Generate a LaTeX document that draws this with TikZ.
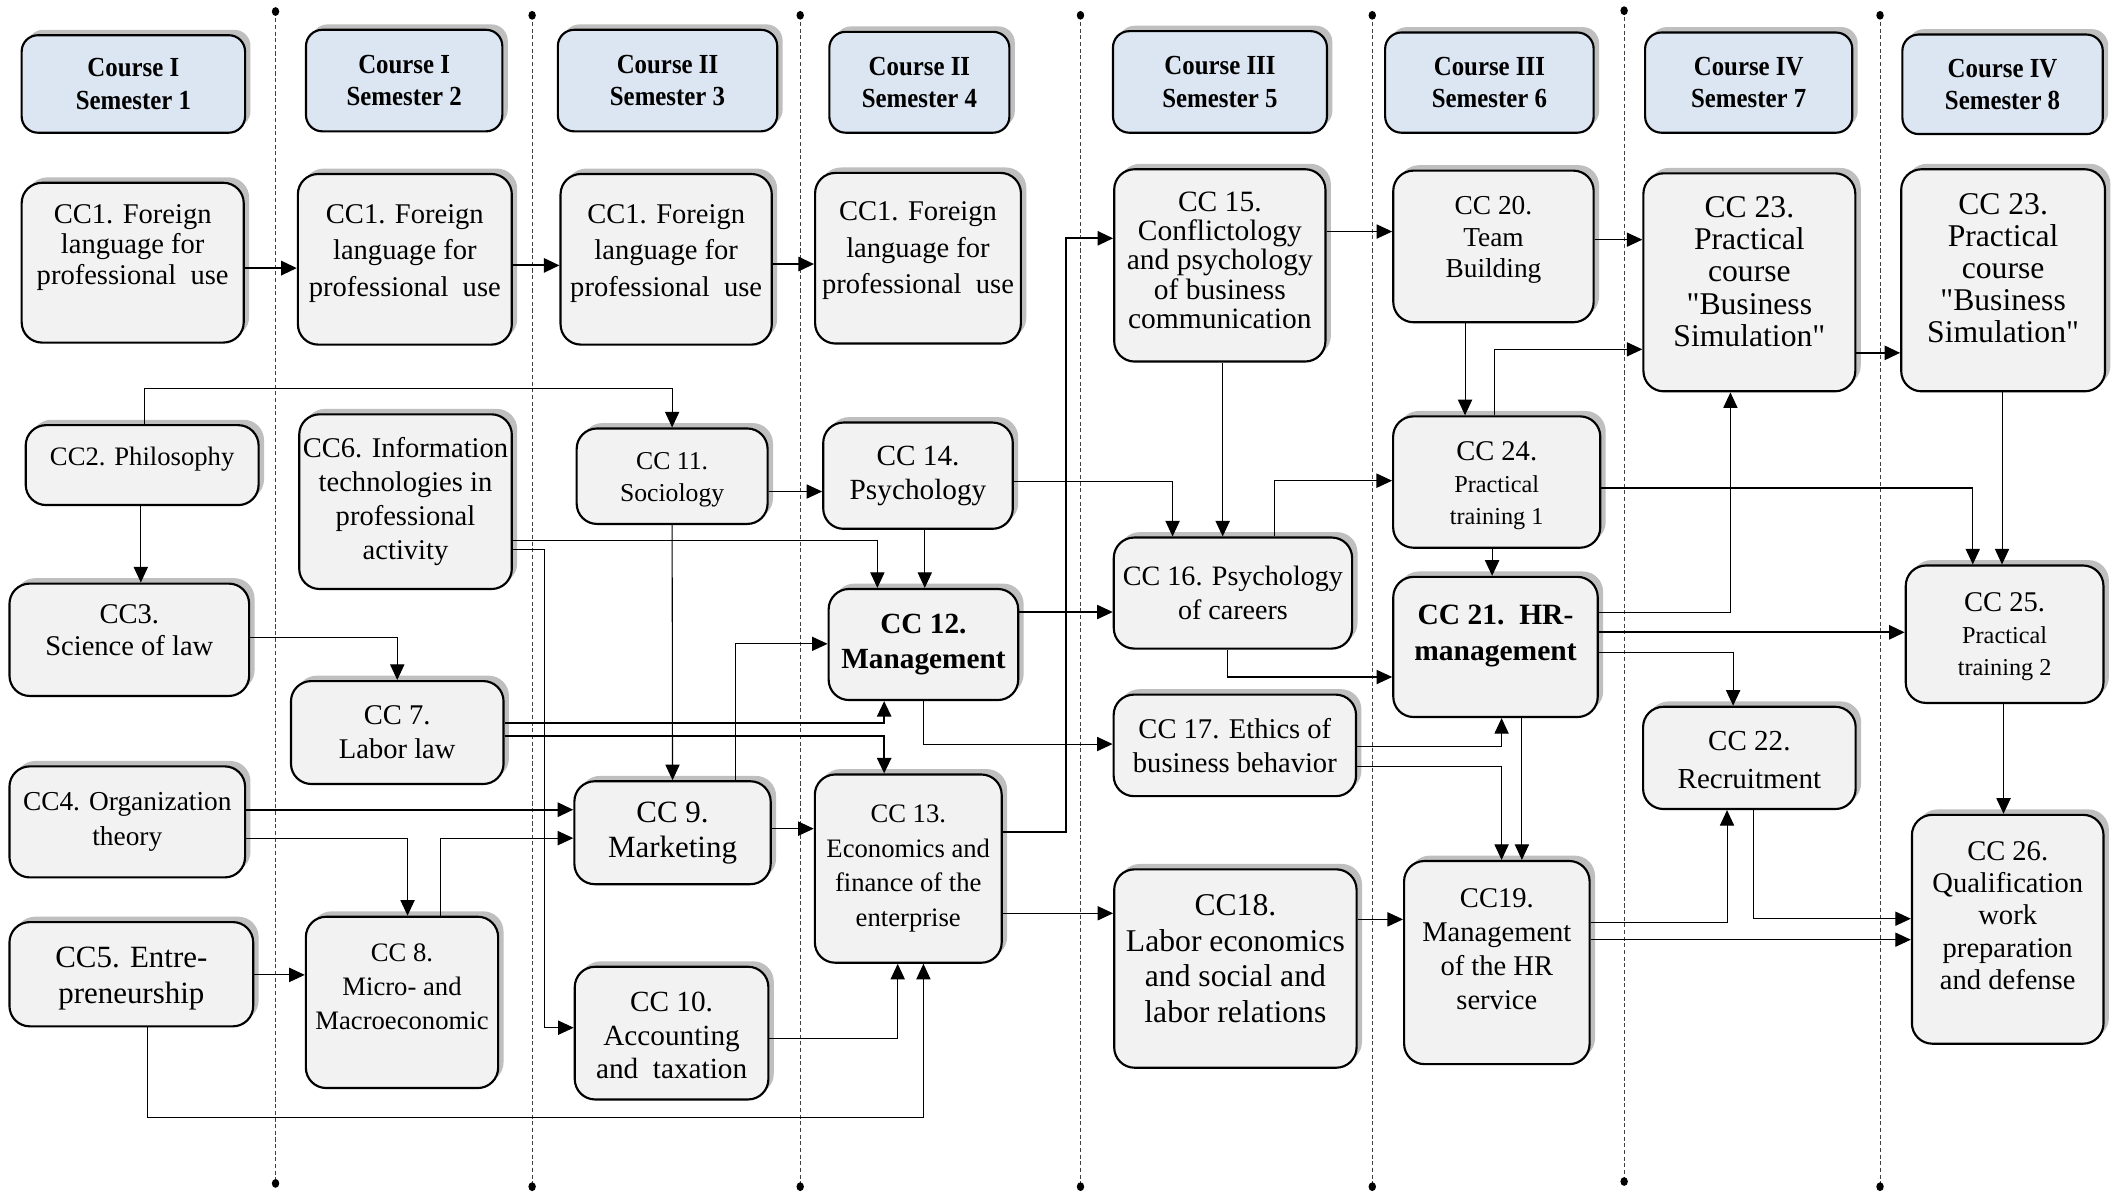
\documentclass[tikz,border=0pt]{standalone}
\usepackage{fontspec}
\setmainfont{Liberation Serif}
\usetikzlibrary{arrows.meta,shadows}

\definecolor{boxgray}{HTML}{F2F2F2}
\definecolor{headblue}{HTML}{DCE6F2}
\newcommand{\lift}[2]{\raisebox{#1}[\height][\depth]{\begin{tabular}{@{}c@{}}#2\end{tabular}}}
\newcommand{\smalltxt}{\fontsize{10.2}{13.6}\selectfont}
\newcommand{\dq}{{\addfontfeatures{Ligatures=TeXOff}\symbol{34}}}

\tikzset{
  box/.style={draw, line width=0.9pt, rounded corners=3mm, fill=boxgray, align=center, inner sep=1pt,
    font=\fontsize{12}{14.2}\selectfont,
    drop shadow={shadow xshift=0.8mm, shadow yshift=0.8mm, fill=black!25, opacity=1}},
  head/.style={box, fill=headblue, rounded corners=2.4mm,
    font=\bfseries\fontsize{11.6}{13.6}\selectfont\addfontfeatures{FakeStretch=0.9}},
  fs/.style 2 args={font=\fontsize{#1}{#2}\selectfont},
  fsb/.style 2 args={font=\bfseries\fontsize{#1}{#2}\selectfont},
  arr/.style={line width=0.45pt, -{Triangle[length=2.3mm,width=2.1mm]}},
  tarr/.style={arr, line width=0.9pt},
  sep/.style={line width=0.4pt, black!75, dash pattern=on 1.7pt off 1.1pt},
}

\begin{document}
\begin{tikzpicture}[x=0.2mm, y=-0.2mm]
  \useasboundingbox (0,0) rectangle (1565,880.4);

  % semester borders
  \foreach \x/\ya/\yb in {203.5/8.5/874, 393/11.3/876.4, 591/11.3/876.4, 798/11.3/876.4,
      1013.5/11.3/876.4, 1199.5/7.9/872.6, 1388.5/11.3/876.4} {
    \draw[sep] (\x,\ya) -- (\x,\yb);
    \fill (\x,\ya) circle [x radius=0.55mm, y radius=0.65mm];
    \fill (\x,\yb) circle [x radius=0.55mm, y radius=0.65mm];
  }

  % headers
  \node[head, minimum width=33mm, minimum height=14.4mm] (h1) at (98.5,62) {Course I\\Semester 1};
  \node[head, minimum width=29mm, minimum height=15mm] (h2) at (298.5,59.5) {Course I\\Semester 2};
  \node[head, minimum width=32.4mm, minimum height=15mm] (h3) at (493,59.5) {Course II\\Semester 3};
  \node[head, minimum width=26.6mm, minimum height=14.9mm] (h4) at (679,60.75) {Course II\\Semester 4};
  \node[head, minimum width=31.6mm, minimum height=15mm] (h5) at (901,60.5) {Course III\\Semester 5};
  \node[head, minimum width=30.8mm, minimum height=14.8mm] (h6) at (1100,61) {Course III\\Semester 6};
  \node[head, minimum width=30.6mm, minimum height=14.8mm] (h7) at (1291.5,61) {Course IV\\Semester 7};
  \node[head, minimum width=29.6mm, minimum height=14.7mm] (h8) at (1479,62.25) {Course IV\\Semester 8};

  % semester 1
  \node[box, fs={12}{12.8}, minimum width=32.8mm, minimum height=23.6mm] (cc1a) at (98,194)
    {\lift{2.2mm}{CC1. Foreign\\language for\\professional~~use}};
  \node[box, fs={11.2}{14}, minimum width=34.4mm, minimum height=11.8mm] (cc2) at (105,343.5)
    {\lift{1mm}{CC2. Philosophy}};
  \node[box, fs={12}{13.6}, minimum width=35.4mm, minimum height=16.6mm] (cc3) at (95.5,472.5)
    {\lift{1mm}{CC3.\\Science of law}};
  \node[box, fs={11.5}{14.7}, minimum width=34.8mm, minimum height=16.4mm] (cc4) at (94,607)
    {CC4. Organization\\theory};
  \node[box, fs={13}{15.3}, minimum width=36mm, minimum height=15.4mm] (cc5) at (97,719.5)
    {\lift{-0.6mm}{CC5. Entre-\\preneurship}};

  % semester 2
  \node[box, fs={12}{15.3}, minimum width=31.6mm, minimum height=25.2mm] (cc1b) at (299,191.5)
    {\lift{1mm}{CC1. Foreign\\language for\\professional~~use}};
  \node[box, fs={12}{14.2}, minimum width=31.4mm, minimum height=25.8mm] (cc6) at (299.5,370.5)
    {CC6. Information\\technologies in\\professional\\activity};
  \node[box, fs={12}{14.2}, minimum width=31.4mm, minimum height=15.2mm] (cc7) at (293.4,541)
    {CC 7.\\Labor law};
  \node[box, fs={11.2}{14.2}, minimum width=28.4mm, minimum height=25.3mm] (cc8) at (296.9,740.3)
    {\lift{2mm}{CC 8.\\Micro- and\\Macroeconomic}};

  % semester 3
  \node[box, fs={12}{15.3}, minimum width=31.2mm, minimum height=25.2mm] (cc1c) at (492,191.5)
    {\lift{1mm}{CC1. Foreign\\language for\\professional~~use}};
  \node[box, fs={10.8}{13.6}, minimum width=28.2mm, minimum height=14.1mm] (cc11) at (496.4,351.7)
    {\lift{-0.4mm}{CC 11.\\Sociology}};
  \node[box, fs={13}{14.7}, minimum width=29mm, minimum height=15.2mm] (cc9) at (496.7,615)
    {CC 9.\\Marketing};
  \node[box, fs={12.3}{14}, minimum width=28.6mm, minimum height=19.6mm] (cc10) at (496,763)
    {\lift{-0.8mm}{CC 10.\\Accounting\\and~~taxation}};

  % semester 4
  \node[box, fs={12}{15.3}, minimum width=30.4mm, minimum height=25.2mm] (cc1d) at (678,190.7)
    {\lift{1.2mm}{CC1. Foreign\\language for\\professional~~use}};
  \node[box, fs={12.3}{14.2}, minimum width=28mm, minimum height=15.7mm] (cc14) at (678,351.3)
    {CC 14.\\Psychology};
  \node[box, fsb={12.3}{14.7}, minimum width=28mm, minimum height=16.4mm] (cc12) at (682,476)
    {CC 12.\\Management};
  \node[box, fs={11.2}{14.5}, minimum width=27.6mm, minimum height=27.8mm] (cc13) at (670.8,641.5)
    {CC 13.\\Economics and\\finance of the\\enterprise};

  % semester 5
  \node[box, fs={12.4}{12.2}, minimum width=31.2mm, minimum height=28.4mm] (cc15) at (900.9,196)
    {\lift{0.2mm}{CC 15.\\Conflictology\\and psychology\\of business\\communication}};
  \node[box, fs={11.8}{14.2}, minimum width=35.2mm, minimum height=16.4mm] (cc16) at (910.6,438)
    {CC 16. Psychology\\of careers};
  \node[box, fs={12}{14.2}, minimum width=35.8mm, minimum height=15mm] (cc17) at (912,550.5)
    {CC 17. Ethics of\\business behavior};
  \node[box, fs={13.3}{15}, minimum width=35.8mm, minimum height=29.3mm] (cc18) at (912.4,715.3)
    {\lift{1mm}{CC18.\\Labor economics\\and social and\\labor relations}};

  % semester 6
  \node[box, fs={11.5}{13.4}, minimum width=29.6mm, minimum height=22.4mm] (cc20) at (1103,182)
    {\lift{1mm}{CC 20.\\Team\\Building}};
  \node[box, fs={12}{13.6}, minimum width=30.6mm, minimum height=19.4mm] (cc24) at (1105.4,356)
    {\lift{-0.6mm}{CC 24.\\{\smalltxt Practical}\\{\smalltxt training 1}}};
  \node[box, fsb={12.4}{15.3}, minimum width=30.2mm, minimum height=20.7mm] (cc21) at (1104.5,477.8)
    {\lift{1.7mm}{CC 21.~~HR-\\management}};
  \node[box, fs={12}{14.2}, minimum width=27.4mm, minimum height=30mm] (cc19) at (1105.5,710.9)
    {\lift{1.6mm}{CC19.\\Management\\of the HR\\service}};

  % semester 7
  \node[box, fs={13.3}{13.5}, minimum width=31.3mm, minimum height=32.2mm] (cc23a) at (1292,208.5)
    {\lift{1mm}{CC 23.\\Practical\\course\\\dq Business\\Simulation\dq}};
  \node[box, fs={12.2}{15.8}, minimum width=31.4mm, minimum height=15.1mm] (cc22) at (1292,559.75)
    {\lift{-0.6mm}{CC 22.\\Recruitment}};

  % semester 8
  \node[box, fs={13.3}{13.5}, minimum width=30.1mm, minimum height=32.8mm] (cc23b) at (1479.4,207)
    {\lift{1.2mm}{CC 23.\\Practical\\course\\\dq Business\\Simulation\dq}};
  \node[box, fs={12}{13.6}, minimum width=29.2mm, minimum height=20.3mm] (cc25) at (1480.5,468.4)
    {\lift{-0.4mm}{CC 25.\\{\smalltxt Practical}\\{\smalltxt training 2}}};
  \node[box, fs={12}{13.6}, minimum width=28.3mm, minimum height=33.8mm] (cc26) at (1482.8,686.3)
    {\lift{1.6mm}{CC 26.\\Qualification\\work\\preparation\\and defense}};

  % links
  \draw[tarr] (cc1a.east |- 0,198) -- (cc1b.west |- 0,198);
  \draw[tarr] (cc1b.east |- 0,196) -- (cc1c.west |- 0,196);
  \draw[tarr] (cc1c.east |- 0,195) -- (cc1d.west |- 0,195);
  \draw[arr] (cc2.north -| 107,0) |- (cc11.north |- 0,287) -- (cc11.north);
  \draw[arr] (cc2.south -| 104,0) -- (cc3.north -| 104,0);
  \draw[arr] (cc3.east |- 0,471) -| (cc7.north);
  \draw[arr] (cc6.east |- 0,399) -| (cc12.north -| 648,0);
  \draw[arr] (cc6.east |- 0,406) -| (402,759) -- (cc10.west |- 0,759);
  \draw[arr] (cc11.south) -- (cc9.north);
  \draw[arr] (cc11.east |- 0,363) -- (cc14.west |- 0,363);
  \draw[arr] (cc14.south -| 683,0) -- (cc12.north -| 683,0);
  \draw[arr] (cc14.east |- 0,355.5) -| (cc16.north -| 866,0);
  \draw[arr] (cc15.south -| 903,0) -- (cc16.north -| 903,0);
  \draw[arr] (cc16.north -| 941.5,0) |- (cc24.west |- 0,355);
  \draw[arr] (cc12.east |- 0,452) -- (cc16.west |- 0,452);
  \draw[arr] (cc12.south) |- (cc17.west |- 0,549.5);
  \draw[tarr] (cc7.east |- 0,534) -| (cc12.south -| 653,0);
  \draw[tarr] (cc7.east |- 0,543.5) -| (cc13.north -| 653,0);
  \draw[tarr] (cc4.east |- 0,598) -- (cc9.west |- 0,598);
  \draw[arr] (cc4.east |- 0,619) -| (cc8.north -| 301,0);
  \draw[arr] (cc8.north -| 325,0) |- (cc9.west |- 0,619);
  \draw[arr] (cc5.east |- 0,720) -- (cc8.west |- 0,720);
  \draw[arr] (cc5.south -| 109,0) |- (682,825.6) -- (cc13.south -| 682,0);
  \draw[arr] (cc10.east |- 0,767) -| (cc13.south -| 663,0);
  \draw[arr] (cc9.north -| 543,0) |- (cc12.west |- 0,475.5);
  \draw[arr] (cc9.east |- 0,612) -- (cc13.west |- 0,612);
  \draw[tarr] (cc13.east |- 0,614.5) -| (787,176) -- (cc15.west |- 0,176);
  \draw[arr] (cc13.east |- 0,674.5) -- (cc18.west |- 0,674.5);
  \draw[arr] (cc15.east |- 0,171) -- (cc20.west |- 0,171);
  \draw[arr] (cc20.east |- 0,177) -- (cc23a.west |- 0,177);
  \draw[arr] (cc20.south -| 1082,0) -- (cc24.north -| 1082,0);
  \draw[arr] (cc24.north -| 1103.5,0) |- (cc23a.west |- 0,258);
  \draw[tarr] (cc23a.east |- 0,260.6) -- (cc23b.west |- 0,260.6);
  \draw[arr] (cc24.south -| 1102,0) -- (cc21.north -| 1102,0);
  \draw[arr] (cc24.east |- 0,360.4) -| (cc25.north -| 1457,0);
  \draw[arr] (cc23b.south -| 1478.6,0) -- (cc25.north -| 1478.6,0);
  \draw[arr] (cc16.south -| 906.6,0) |- (cc21.west |- 0,500);
  \draw[arr] (cc17.east |- 0,551.4) -| (cc21.south -| 1109,0);
  \draw[arr] (cc17.east |- 0,566.3) -| (cc19.north -| 1109,0);
  \draw[arr] (cc21.south -| 1124,0) -- (cc19.north -| 1124,0);
  \draw[arr] (cc18.east |- 0,679) -- (cc19.west |- 0,679);
  \draw[arr] (cc21.east |- 0,452.3) -| (cc23a.south -| 1278,0);
  \draw[tarr] (cc21.east |- 0,467) -- (cc25.west |- 0,467);
  \draw[arr] (cc21.east |- 0,482) -| (cc22.north -| 1280,0);
  \draw[arr] (cc19.east |- 0,681) -| (cc22.south -| 1275.5,0);
  \draw[arr] (cc19.east |- 0,694) -- (cc26.west |- 0,694);
  \draw[arr] (cc22.south -| 1295,0) |- (cc26.west |- 0,678.5);
  \draw[arr] (cc25.south -| 1479.7,0) -- (cc26.north -| 1479.7,0);
\end{tikzpicture}
\end{document}
